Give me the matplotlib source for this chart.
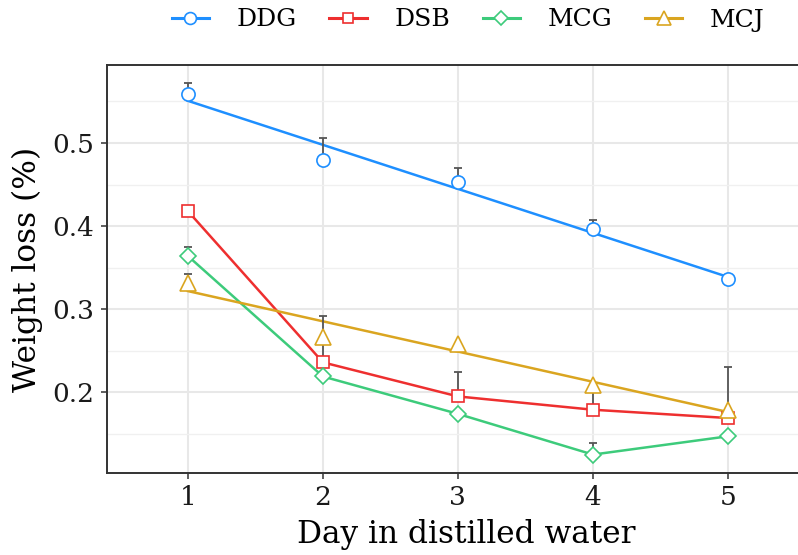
import matplotlib
matplotlib.use("Agg")
import matplotlib.pyplot as plt
from matplotlib.lines import Line2D
from matplotlib.ticker import MultipleLocator
import numpy as np

days = [1, 2, 3, 4, 5]
groups = ["DDG", "DSB", "MCG", "MCJ"]

# mean weight loss (%) and upper error (sd)
ddg = [0.559, 0.480, 0.453, 0.396, 0.336]
ddg_err = [0.013, 0.026, 0.017, 0.011, 0.0]
dsb = [0.418, 0.236, 0.195, 0.179, 0.169]
dsb_err = [0.0, 0.030, 0.030, 0.025, 0.061]
mcg = [0.364, 0.219, 0.174, 0.125, 0.147]
mcg_err = [0.011, 0.0, 0.0, 0.014, 0.0]
mcj = [0.332, 0.267, 0.258, 0.209, 0.179]
mcj_err = [0.010, 0.025, 0.0, 0.0, 0.0]

colors = {"DDG": "#1e8fff", "DSB": "#ee2f2f", "MCG": "#3dcb7b", "MCJ": "#daa520"}
markers = {"DDG": ("o", 9.5), "DSB": ("s", 8.5), "MCG": ("D", 8.0), "MCJ": ("^", 11.5)}
fit_linear = {"DDG": True, "DSB": False, "MCG": False, "MCJ": True}
values = {"DDG": (ddg, ddg_err), "DSB": (dsb, dsb_err), "MCG": (mcg, mcg_err), "MCJ": (mcj, mcj_err)}

plt.rcParams["font.family"] = ["DejaVu Serif"]

fig = plt.figure(figsize=(7.98, 5.55), dpi=100)
ax = fig.add_axes([0.134, 0.148, 0.90, 0.735])

x = np.array(days, dtype=float)
handles = []
for g in groups:
    y, err = values[g]
    y = np.array(y)
    err = np.array(err)
    c = colors[g]
    m, ms = markers[g]

    # line: linear fit for DDG / MCJ, connecting points for the others
    if fit_linear[g]:
        k, b = np.polyfit(x, y, 1)
        ax.plot(x, k * x + b, color=c, lw=1.8, zorder=2)
    else:
        ax.plot(x, y, color=c, lw=1.8, zorder=2)

    # upper error bars only
    sel = err > 0
    ax.errorbar(x[sel], y[sel], yerr=[np.zeros(sel.sum()), err[sel]], fmt="none",
                ecolor="#555555", elinewidth=1.3, capsize=2.8, capthick=1.3, zorder=2.5)

    ax.plot(x, y, linestyle="none", marker=m, markersize=ms, markerfacecolor="white",
            markeredgecolor=c, markeredgewidth=1.2, zorder=3)

    handles.append(Line2D([0], [0], color=c, lw=2.2, marker=m, markersize=ms * 0.9,
                          markerfacecolor="white", markeredgecolor=c, markeredgewidth=1.2))

ax.set_xlim(0.4, 5.72)
ax.set_ylim(0.103, 0.594)
ax.set_xticks(days)
ax.yaxis.set_minor_locator(MultipleLocator(0.05))
ax.set_yticks([0.2, 0.3, 0.4, 0.5])

ax.grid(which="major", color="#e8e8e8", lw=1.5, zorder=0)
ax.grid(which="minor", axis="y", color="#f0f0f0", lw=1.0, zorder=0)
ax.set_axisbelow(True)
ax.tick_params(which="minor", length=0)
ax.tick_params(which="major", length=4, width=1.1, color="#333333", labelsize=19,
               labelcolor="#1a1a1a", pad=5)
for s in ax.spines.values():
    s.set_color("#333333")
    s.set_linewidth(1.4)

ax.set_xlabel("Day in distilled water", fontsize=22.5, labelpad=6)
ax.set_ylabel("Weight loss (%)", fontsize=22.5, labelpad=7)

fig.legend(handles, groups, loc="center", bbox_to_anchor=(468 / 798, 1 - 20 / 555),
           ncol=4, frameon=False, fontsize=18, handlelength=1.5, handletextpad=1.1,
           columnspacing=1.3)

fig.savefig("out.png", dpi=100)
